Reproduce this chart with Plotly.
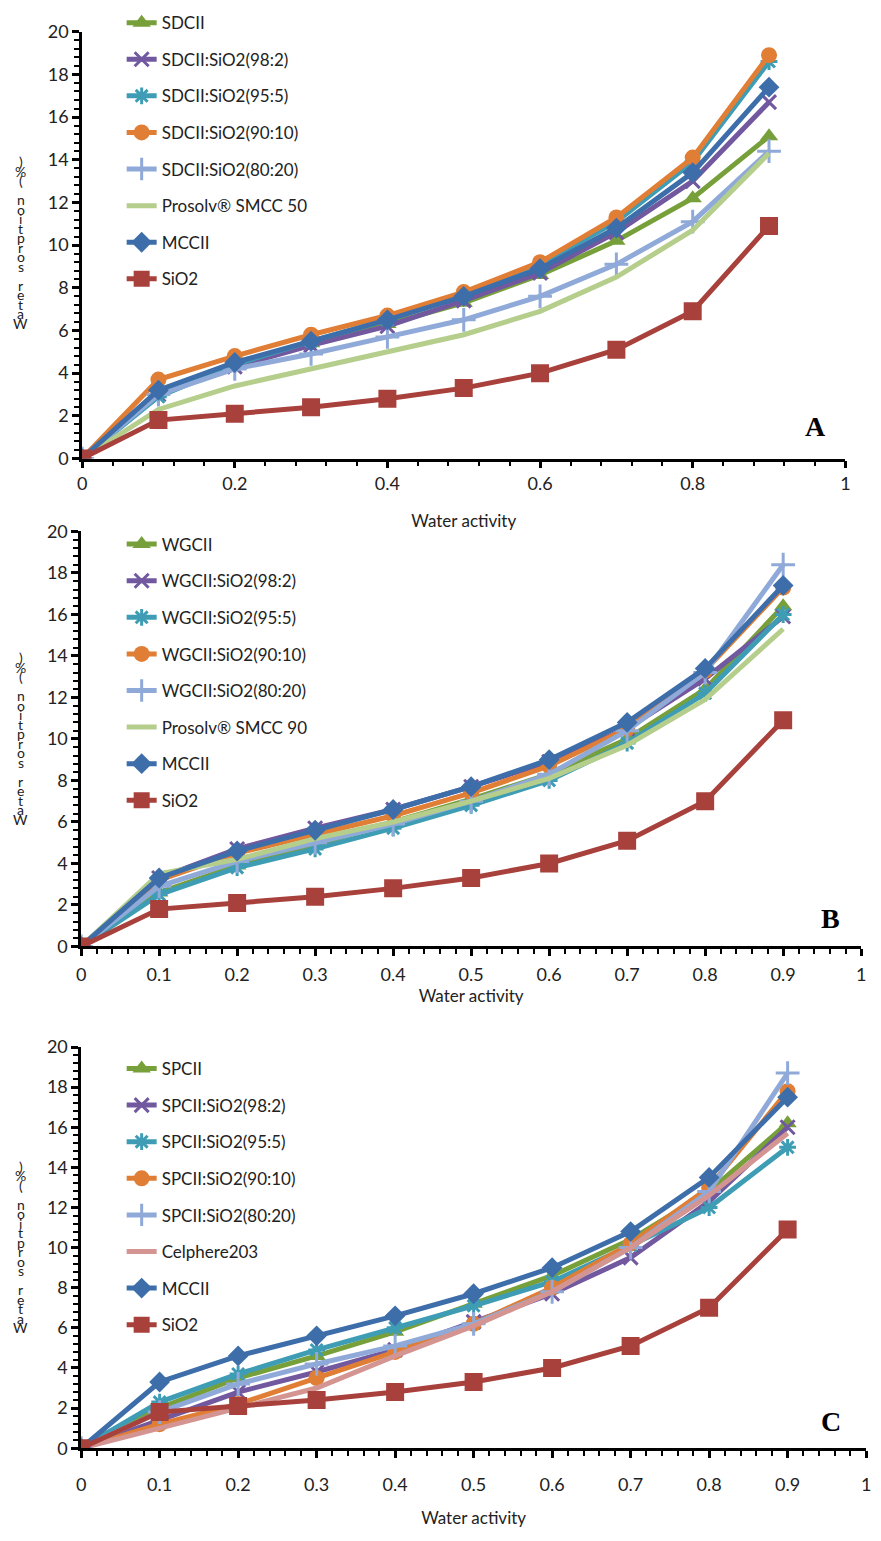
import plotly.graph_objects as go

W, H = 881, 1541

x_vals = [0, 0.1, 0.2, 0.3, 0.4, 0.5, 0.6, 0.7, 0.8, 0.9]

# Panel A
a_names = ["SDCII", "SDCII:SiO2(98:2)", "SDCII:SiO2(95:5)", "SDCII:SiO2(90:10)",
           "SDCII:SiO2(80:20)", "Prosolv® SMCC 50", "MCCII", "SiO2"]
a_sdcii = [0, 3.1, 4.5, 5.4, 6.3, 7.3, 8.6, 10.2, 12.2, 15.1]
a_98 = [0, 3.0, 4.3, 5.3, 6.2, 7.4, 8.7, 10.6, 13.0, 16.7]
a_95 = [0, 2.9, 4.4, 5.5, 6.5, 7.7, 9.1, 11.1, 13.9, 18.6]
a_90 = [0, 3.7, 4.8, 5.8, 6.7, 7.8, 9.2, 11.3, 14.1, 18.9]
a_80 = [0, 3.0, 4.2, 4.9, 5.7, 6.5, 7.6, 9.1, 11.1, 14.4]
a_prosolv = [0, 2.3, 3.4, 4.2, 5.0, 5.8, 6.9, 8.5, 10.7, 14.3]
a_mccii = [0, 3.2, 4.5, 5.5, 6.5, 7.6, 8.9, 10.8, 13.4, 17.4]
a_sio2 = [0, 1.8, 2.1, 2.4, 2.8, 3.3, 4.0, 5.1, 6.9, 10.9]

# Panel B
b_names = ["WGCII", "WGCII:SiO2(98:2)", "WGCII:SiO2(95:5)", "WGCII:SiO2(90:10)",
           "WGCII:SiO2(80:20)", "Prosolv® SMCC 90", "MCCII", "SiO2"]
b_wgcii = [0, 2.6, 3.9, 4.9, 6.0, 7.1, 8.3, 10.0, 12.4, 16.4]
b_98 = [0, 3.3, 4.7, 5.7, 6.6, 7.7, 8.9, 10.5, 12.9, 15.9]
b_95 = [0, 2.5, 3.8, 4.7, 5.7, 6.8, 8.0, 9.8, 12.2, 16.0]
b_90 = [0, 3.2, 4.5, 5.4, 6.3, 7.4, 8.7, 10.5, 13.3, 17.3]
b_80 = [0, 2.9, 4.1, 5.0, 5.9, 7.0, 8.3, 10.4, 13.2, 18.4]
b_prosolv = [0, 3.5, 4.2, 5.2, 6.0, 7.0, 8.1, 9.7, 11.9, 15.3]
b_mccii = [0, 3.3, 4.6, 5.6, 6.6, 7.7, 9.0, 10.8, 13.4, 17.4]
b_sio2 = [0, 1.8, 2.1, 2.4, 2.8, 3.3, 4.0, 5.1, 7.0, 10.9]

# Panel C
c_names = ["SPCII", "SPCII:SiO2(98:2)", "SPCII:SiO2(95:5)", "SPCII:SiO2(90:10)",
           "SPCII:SiO2(80:20)", "Celphere203", "MCCII", "SiO2"]
c_spcii = [0, 2.0, 3.5, 4.6, 5.8, 7.2, 8.6, 10.4, 12.8, 16.2]
c_98 = [0, 1.4, 2.8, 3.8, 4.9, 6.3, 7.7, 9.5, 12.3, 16.0]
c_95 = [0, 2.3, 3.7, 4.9, 6.0, 7.1, 8.3, 10.1, 12.0, 15.0]
c_90 = [0, 1.2, 2.2, 3.5, 4.8, 6.2, 8.0, 10.2, 13.0, 17.8]
c_80 = [0, 1.8, 3.2, 4.2, 5.1, 6.2, 7.8, 10.0, 12.8, 18.7]
c_celphere = [0, 1.0, 2.0, 3.0, 4.6, 6.1, 7.8, 10.0, 12.6, 15.7]
c_mccii = [0, 3.3, 4.6, 5.6, 6.6, 7.7, 9.0, 10.8, 13.5, 17.5]
c_sio2 = [0, 1.8, 2.1, 2.4, 2.8, 3.3, 4.0, 5.1, 7.0, 10.9]

panel_letters = ["A", "B", "C"]
y_title = "Water sorption (%)"
x_title = "Water activity"

# styles per series position
colors = ["#77A03B", "#71589F", "#3E9DB5", "#E07E35", "#8FAAD8", "#B5CE8C", "#3D6EAA", "#A8403C"]
c_colors = colors[:5] + ["#D49592"] + colors[6:]
symbols = ["triangle-up", "x-thin-open", "asterisk-open", "circle", "cross-thin-open", None, "diamond", "square"]
sizes = [16, 14, 14, 16, 17, 0, 16, 18]

# pixel geometry for each panel
geom = [
    dict(x0=78, x1=850, y0=453, y20=20, dtick=0.2, mdt=0.04, cy=234, tx=16, lx=820, ly=420,
         legtop=-7, tls=0, tso=23),
    dict(x0=77, x1=866, y0=948, y20=527, dtick=0.1, mdt=0.02, cy=737, tx=16, lx=835, ly=920,
         legtop=522, tls=3, tso=2),
    dict(x0=77, x1=871, y0=1457, y20=1050, dtick=0.1, mdt=0.02, cy=1253, tx=16, lx=835, ly=1430,
         legtop=1054, tls=11, tso=19),
]

panels = [
    (a_names, [a_sdcii, a_98, a_95, a_90, a_80, a_prosolv, a_mccii, a_sio2], colors),
    (b_names, [b_wgcii, b_98, b_95, b_90, b_80, b_prosolv, b_mccii, b_sio2], colors),
    (c_names, [c_spcii, c_98, c_95, c_90, c_80, c_celphere, c_mccii, c_sio2], c_colors),
]

FONT = "Lato"
TXT = "#222222"
fig = go.Figure()
layout = dict(width=W, height=H, margin=dict(l=0, r=0, t=0, b=0),
              paper_bgcolor="white", plot_bgcolor="white", showlegend=True,
              font=dict(family=FONT, color=TXT))
annotations = []

for p, (names, series, cols) in enumerate(panels):
    g = geom[p]
    sfx = "" if p == 0 else str(p + 1)
    xa, ya = "x" + sfx, "y" + sfx
    leg = "legend" + sfx
    for i, (nm, ys) in enumerate(zip(names, series)):
        sym = symbols[i]
        col = cols[i]
        tr = dict(x=x_vals, y=ys, name=nm, xaxis=xa, yaxis=ya,
                  line=dict(color=col, width=5), legend=leg,
                  legendgroup=f"p{p}_{i}")
        if sym is None:
            tr["mode"] = "lines"
        else:
            tr["mode"] = "lines+markers"
            open_sym = sym.endswith("-open")
            tr["marker"] = dict(symbol=sym, size=sizes[i], color=col,
                                line=dict(color=col, width=3 if open_sym else 0))
        fig.add_trace(go.Scatter(**tr))

    xdom = [g["x0"] / W, g["x1"] / W]
    ydom = [1 - g["y0"] / H, 1 - g["y20"] / H]
    layout["xaxis" + sfx] = dict(
        domain=xdom, range=[0, 1], anchor=ya, dtick=g["dtick"], tick0=0,
        showgrid=False, zeroline=False, showline=True, linecolor="black", linewidth=2.5,
        ticks="outside", ticklen=7, tickwidth=2.5, tickcolor="black",
        minor=dict(dtick=g["mdt"], ticks="outside", ticklen=5, tickwidth=2, tickcolor="black",
                   showgrid=False),
        tickfont=dict(family=FONT, size=18, color=TXT), ticklabelstandoff=g["tls"],
        title=dict(text=x_title, font=dict(family=FONT, size=17, color=TXT), standoff=g["tso"]),
        tickformat="~g",
    )
    layout["yaxis" + sfx] = dict(
        domain=ydom, range=[0, 20], anchor=xa, dtick=2, tick0=0,
        showgrid=False, zeroline=False, showline=True, linecolor="black", linewidth=2.5,
        ticks="outside", ticklen=7, tickwidth=2.5, tickcolor="black",
        minor=dict(dtick=0.4, ticks="outside", ticklen=5, tickwidth=2, tickcolor="black",
                   showgrid=False),
        tickfont=dict(family=FONT, size=18, color=TXT),
    )
    layout[leg] = dict(
        x=118 / W, y=1 - g["legtop"] / H, xanchor="left", yanchor="top",
        bgcolor="rgba(0,0,0,0)", font=dict(family=FONT, size=17, color=TXT),
        tracegroupgap=11.5, itemsizing="trace",
    )
    # panel letter
    annotations.append(dict(text=f"<b>{panel_letters[p]}</b>", x=g["lx"] / W, y=1 - g["ly"] / H,
                            xref="paper", yref="paper", xanchor="center", yanchor="middle",
                            showarrow=False,
                            font=dict(family="Liberation Serif", size=28, color="black")))
    # stacked y-title characters (reads bottom to top)
    chars = list(y_title)[::-1]
    n = len(chars)
    step = 164 / (n - 1)
    for k, ch in enumerate(chars):
        if ch == " ":
            continue
        py = g["cy"] - 82 + k * step
        annotations.append(dict(text=ch, x=g["tx"] / W, y=1 - py / H, xref="paper", yref="paper",
                                xanchor="center", yanchor="middle", showarrow=False,
                                font=dict(family=FONT, size=14, color=TXT)))

layout["annotations"] = annotations
fig.update_layout(**layout)
fig.write_html("out.html")
